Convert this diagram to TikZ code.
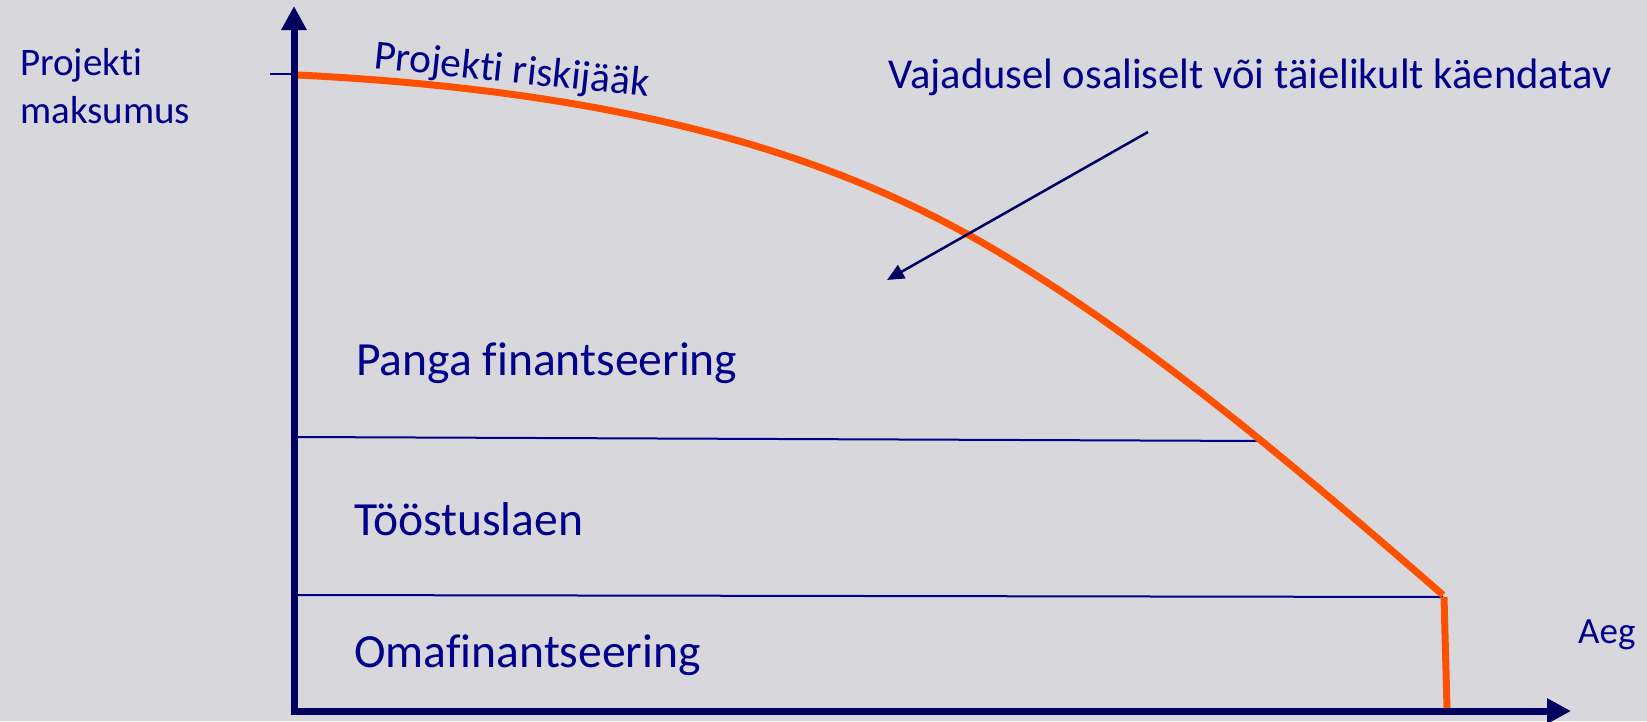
\documentclass[tikz,border=0pt]{standalone}
\usepackage{fontspec}
\setmainfont{Carlito}[Ligatures=NoCommon]
\usetikzlibrary{arrows.meta}
\definecolor{bgcol}{RGB}{216,216,220}
\definecolor{navytext}{RGB}{0,0,140}
\definecolor{axisblue}{RGB}{0,0,96}
\definecolor{riskorange}{RGB}{255,80,0}
\begin{document}
\begin{tikzpicture}[x=1pt,y=-1pt,
  axisline/.style={draw=axisblue, line width=7pt, line cap=rect, -{Triangle[length=24pt,width=24pt]}},
  bandline/.style={draw=navytext, line width=2pt},
  riskline/.style={draw=riskorange, line width=7pt},
  pointer/.style={draw=axisblue, line width=2.5pt, -{Triangle[length=17pt,width=15pt]}},
  lbl/.style={text=navytext, inner sep=0pt, anchor=base west},
  bandlbl/.style={lbl, font=\fontsize{47.6}{56}\selectfont},
]
\useasboundingbox (0,0) rectangle (1647,721);
\fill[bgcol] (0,0) rectangle (1647,721);

% axes
\coordinate (O) at (294,711);
\coordinate (ytop) at (294,6);
\coordinate (xend) at (1571,711);
\draw[axisline] (O) -- (ytop);
\draw[axisline] (O) -- (xend);

% tick
\coordinate (tickL) at (270,74);
\coordinate (tickR) at (294,74);
\draw[bandline] (tickL) -- (tickR);

% band lines
\coordinate (b1L) at (297,437);
\coordinate (b1R) at (1263,441);
\coordinate (b2L) at (297,595);
\coordinate (b2R) at (1443,597);
\draw[bandline] (b1L) -- (b1R);
\draw[bandline] (b2L) -- (b2R);

% risk curve
\coordinate (c0) at (298,75);
\coordinate (cmid) at (1000,253);
\coordinate (knee) at (1443,595);
\coordinate (kneeTop) at (1444,597);
\coordinate (foot) at (1447,708);
\draw[riskline] (c0) .. controls (648,92.5) and (850,163) .. (cmid)
                     .. controls (1150,343) and (1293,464.5) .. (knee);
\draw[riskline] (kneeTop) -- (foot);

% pointer arrow
\coordinate (pstart) at (1148,132);
\coordinate (ptip) at (887,280);
\draw[pointer] (pstart) -- (ptip);

% labels
\node[lbl, align=left, font=\fontsize{39}{47.7}\selectfont] (ylabel) at (20,123) {Projekti\\maksumus};
\node[lbl, rotate=-6, font=\fontsize{41.5}{50}\selectfont] (risklabel) at (373,68) {Projekti riskijääk};
\node[lbl, font=\fontsize{42.6}{51}\selectfont] (guar) at (888,88) {Vajadusel osaliselt või täielikult käendatav};
\node[bandlbl] (bank) at (356,375) {Panga finantseering};
\node[bandlbl] (ind) at (354,535) {Tööstuslaen};
\node[bandlbl] (own) at (354,667) {Omafinantseering};
\node[lbl, font=\fontsize{37}{44}\selectfont] (xlabel) at (1578,643) {Aeg};
\end{tikzpicture}
\end{document}
